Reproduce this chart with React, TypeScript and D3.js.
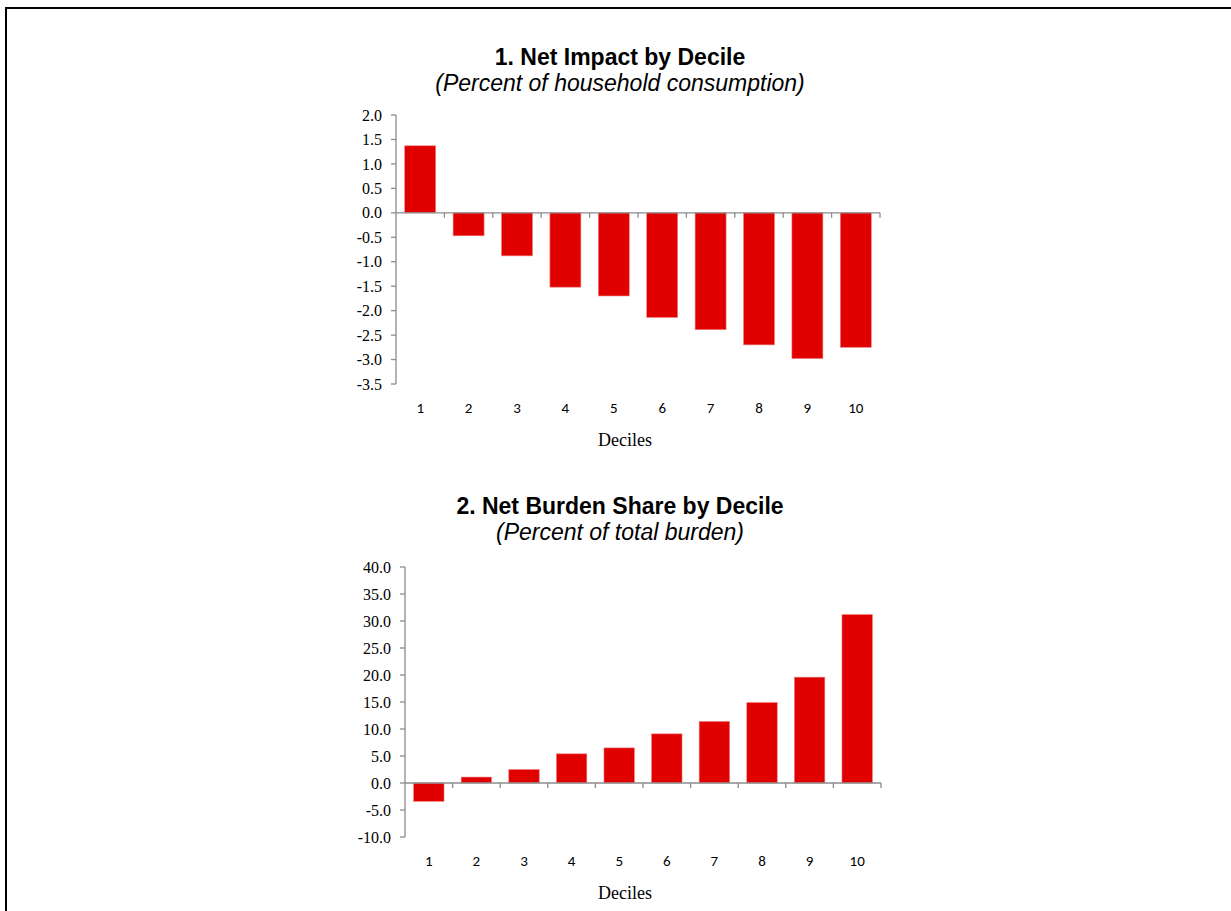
import React from "react";
import * as d3 from "d3";

const deciles = ["1", "2", "3", "4", "5", "6", "7", "8", "9", "10"];
const netImpact = [1.37, -0.47, -0.88, -1.52, -1.7, -2.14, -2.39, -2.7, -2.98, -2.75];
const burdenShare = [-3.4, 1.1, 2.5, 5.4, 6.5, 9.1, 11.4, 14.9, 19.6, 31.2];
const impactTicks = [2.0, 1.5, 1.0, 0.5, 0.0, -0.5, -1.0, -1.5, -2.0, -2.5, -3.0, -3.5];
const burdenTicks = [40, 35, 30, 25, 20, 15, 10, 5, 0, -5, -10];

type PanelProps = {
  title: string;
  subtitle: string;
  values: number[];
  ticks: number[];
  domain: [number, number];
  x0: number;
  x1: number;
  yTop: number;
  yBottom: number;
  titleY: number;
};

function Panel({ title, subtitle, values, ticks, domain, x0, x1, yTop, yBottom, titleY }: PanelProps) {
  const x = d3.scaleBand<string>().domain(deciles).range([x0, x1]).paddingInner(0.36).paddingOuter(0.18);
  const xb = d3.scaleBand<string>().domain(deciles).range([x0, x1]);
  const y = d3.scaleLinear().domain(domain).range([yBottom, yTop]);
  const y0 = y(0);
  const axisColor = "#8c8c8c";
  return (
    <g>
      <text x={620} y={titleY} textAnchor="middle" fontFamily="Liberation Sans, Arial, sans-serif" fontWeight="bold" fontSize={23} fill="#000">{title}</text>
      <text x={620} y={titleY + 26} textAnchor="middle" fontFamily="Liberation Sans, Arial, sans-serif" fontStyle="italic" fontSize={23} fill="#000">{subtitle}</text>
      {values.map((v, i) => (
        <rect key={i} x={x(deciles[i])} width={x.bandwidth()} y={Math.min(y(v), y0)} height={Math.abs(y(v) - y0)} fill="#e00000" stroke="#f08080" strokeWidth={0.6} />
      ))}
      <line x1={x0} x2={x0} y1={yTop} y2={yBottom} stroke={axisColor} strokeWidth={1.3} />
      {ticks.map((t, i) => (
        <g key={i}>
          <line x1={x0 - 5} x2={x0} y1={y(t)} y2={y(t)} stroke={axisColor} strokeWidth={1.3} />
          <text x={x0 - 14} y={y(t)} dy="0.35em" textAnchor="end" fontFamily="Liberation Serif, Times New Roman, serif" fontSize={16} fill="#000">{t.toFixed(1)}</text>
        </g>
      ))}
      <line x1={x0} x2={x1} y1={y0} y2={y0} stroke={axisColor} strokeWidth={1.3} />
      {deciles.map((d) => (
        <g key={d}>
          <line x1={(xb(d) as number) + xb.bandwidth()} x2={(xb(d) as number) + xb.bandwidth()} y1={y0} y2={y0 + 5} stroke={axisColor} strokeWidth={1.3} />
          <text x={(xb(d) as number) + xb.bandwidth() / 2} y={yBottom + 29} textAnchor="middle" fontFamily="Carlito, Calibri, 'Open Sans', sans-serif" fontSize={15} fill="#000">{d}</text>
        </g>
      ))}
      <text x={625} y={yBottom + 62} textAnchor="middle" fontFamily="Liberation Serif, Times New Roman, serif" fontSize={18} fill="#000">Deciles</text>
    </g>
  );
}

export default function App() {
  return (
    <svg width={1231} height={911} style={{ position: "absolute", left: 0, top: 0, background: "#fff" }}>
      <rect x={0} y={0} width={1231} height={911} fill="#fff" />
      <line x1={5} x2={1231} y1={8} y2={8} stroke="#000" strokeWidth={2} />
      <line x1={6} x2={6} y1={7} y2={911} stroke="#000" strokeWidth={2} />
      <Panel title="1. Net Impact by Decile" subtitle="(Percent of household consumption)" values={netImpact} ticks={impactTicks} domain={[-3.5, 2.0]} x0={396} x1={880} yTop={115} yBottom={384} titleY={65} />
      <Panel title="2. Net Burden Share by Decile" subtitle="(Percent of total burden)" values={burdenShare} ticks={burdenTicks} domain={[-10, 40]} x0={405} x1={881} yTop={567} yBottom={837} titleY={514} />
    </svg>
  );
}
